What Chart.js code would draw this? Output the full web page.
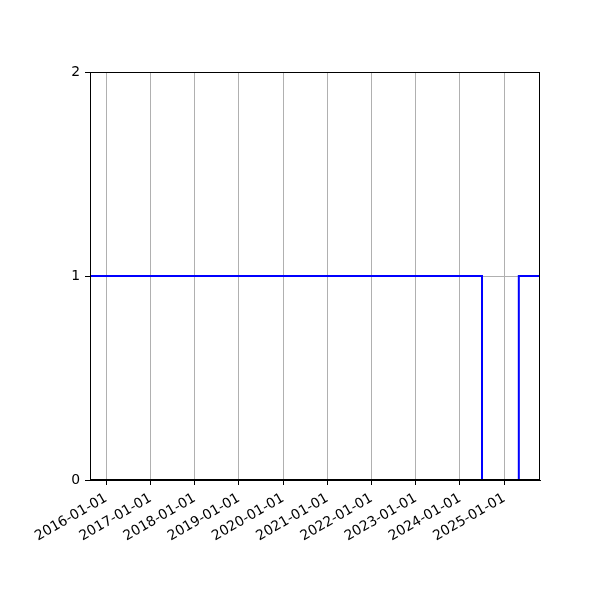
<!DOCTYPE html>
<html>
<head>
<meta charset="utf-8">
<script src="https://cdn.jsdelivr.net/npm/chart.js@4"></script>
<style>
html,body{margin:0;padding:0;background:#fff;}
canvas{display:block;}
</style>
</head>
<body>
<canvas id="chart" width="600" height="600"></canvas>
<script>
// step series: value holds until the next date
const stepDates = ["2015-08-20","2024-07-01","2025-05-01","2025-10-23"];
const stepValues = [1,0,1,1];

const xTickLabels = ["2016-01-01","2017-01-01","2018-01-01","2019-01-01","2020-01-01",
                     "2021-01-01","2022-01-01","2023-01-01","2024-01-01","2025-01-01"];
const yTickValues = [0,1,2];
const xRange = ["2015-08-20","2025-10-23"];

const points = stepDates.map((d,i)=>({x:Date.parse(d),y:stepValues[i]}));

// black box round the plot, drawn over the line like matplotlib spines
const frame = {
    id:"frame",
    afterDatasetsDraw(chart){
        const a=chart.chartArea, ctx=chart.ctx;
        ctx.save();
        ctx.strokeStyle="#000";
        ctx.lineWidth=1;
        ctx.strokeRect(Math.round(a.left)+0.5,Math.round(a.top)+0.5,
            Math.round(a.right-a.left)-1,Math.round(a.bottom-a.top)-1);
        ctx.restore();
    }
};

Chart.defaults.font.family="'DejaVu Sans', sans-serif";
Chart.defaults.font.size=13.9;
Chart.defaults.color="#000";

new Chart(document.getElementById("chart"),{
    type:"line",
    data:{
        datasets:[{
            data:points,
            stepped:"before",
            borderColor:"#0000ff",
            borderWidth:2,
            pointRadius:0,
            fill:false
        }]
    },
    options:{
        responsive:false,
        animation:false,
        devicePixelRatio:1,
        layout:{padding:{top:72,right:60,left:0,bottom:0}},
        plugins:{legend:{display:false},tooltip:{enabled:false}},
        scales:{
            x:{
                type:"linear",
                min:Date.parse(xRange[0]),
                max:Date.parse(xRange[1]),
                afterBuildTicks(scale){
                    scale.ticks=xTickLabels.map(s=>({value:Date.parse(s)}));
                },
                afterFit(scale){ scale.height=120; },
                ticks:{
                    autoSkip:false,
                    maxRotation:30,
                    minRotation:30,
                    padding:5,
                    callback:(v,i)=>xTickLabels[i]
                },
                grid:{color:"#b0b0b0",lineWidth:1,tickColor:"#000",tickLength:5},
                border:{color:"#000",width:1}
            },
            y:{
                type:"linear",
                min:0,
                max:2,
                afterBuildTicks(scale){
                    scale.ticks=yTickValues.map(v=>({value:v}));
                },
                afterFit(scale){ scale.width=90; },
                ticks:{padding:5},
                grid:{color:"#b0b0b0",lineWidth:1,tickColor:"#000",tickLength:5},
                border:{color:"#000",width:1}
            }
        }
    },
    plugins:[frame]
});
</script>
</body>
</html>
